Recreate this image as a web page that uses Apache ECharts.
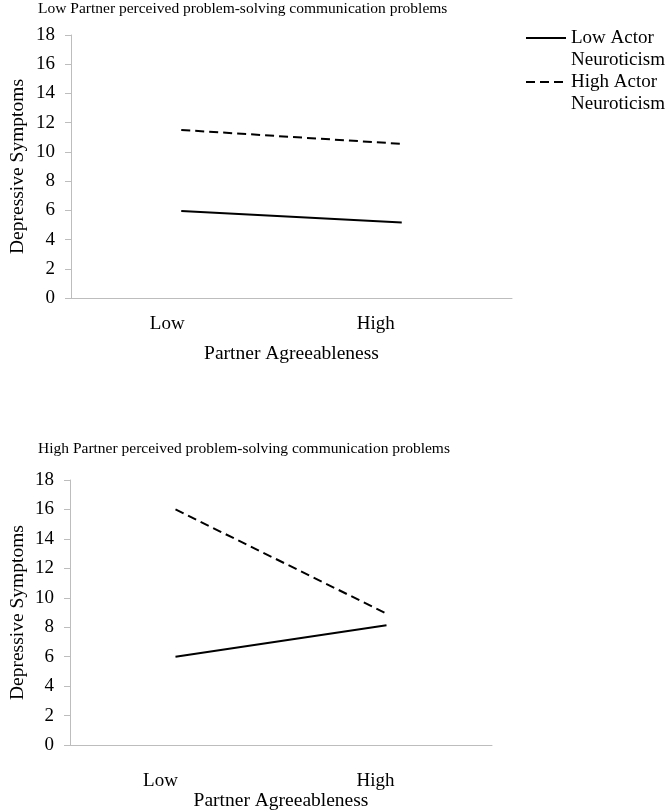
<!DOCTYPE html>
<html>
<head>
<meta charset="utf-8">
<script src="https://cdn.jsdelivr.net/npm/echarts@6/dist/echarts.min.js"></script>
<style>
html,body{margin:0;padding:0;background:#fff;}
#chart{width:670px;height:812px;}
</style>
</head>
<body>
<div id="chart"></div>
<script>
const categories = ['Low', 'High'];
const seriesNames = ['Low Actor\nNeuroticism', 'High Actor\nNeuroticism'];
const titles = [
  'Low Partner perceived problem-solving communication problems',
  'High Partner perceived problem-solving communication problems'
];
const yAxisName = 'Depressive Symptoms';
const xAxisName = 'Partner Agreeableness';
const yMin = 0, yMax = 18, yInterval = 2;

// Low partner perceived problems (top panel)
const topLowActor = [5.95, 5.17];
const topHighActor = [11.5, 10.55];
// High partner perceived problems (bottom panel)
const bottomLowActor = [6.0, 8.13];
const bottomHighActor = [16.0, 8.93];

const FONT = 'Liberation Serif';
const txt = {fontFamily: FONT, color: '#000'};

const chart = echarts.init(document.getElementById('chart'));

function makeX(idx, margin, padLow, padHigh, nameGap) {
  return {
    type: 'category', gridIndex: idx, data: categories, boundaryGap: true,
    axisLine: {show: true, lineStyle: {color: '#bdbdbd', width: 1}},
    axisTick: {show: false},
    axisLabel: Object.assign({
      fontSize: 19, margin: margin,
      formatter: function (v, i) { return (i === 0 ? '{a|' : '{b|') + v + '}'; },
      rich: {
        a: Object.assign({fontSize: 19, padding: [0, padLow, 0, 0]}, txt),
        b: Object.assign({fontSize: 19, padding: [0, padHigh, 0, 0]}, txt)
      }
    }, txt),
    name: xAxisName, nameLocation: 'middle', nameGap: nameGap,
    nameTextStyle: Object.assign({fontSize: 19.5}, txt)
  };
}
function makeY(idx, gap) {
  return {
    type: 'value', gridIndex: idx, min: yMin, max: yMax, interval: yInterval,
    axisLine: {show: true, lineStyle: {color: '#bdbdbd', width: 1}},
    axisTick: {show: true, length: 6, lineStyle: {color: '#bdbdbd'}},
    splitLine: {show: false},
    axisLabel: Object.assign({fontSize: 19, margin: 16}, txt),
    name: yAxisName, nameLocation: 'middle', nameGap: gap, nameMoveOverlap: false,
    nameTextStyle: Object.assign({fontSize: 19.5}, txt)
  };
}
function line(name, data, idx, dashed) {
  return {
    type: 'line', name: name, data: data, xAxisIndex: idx, yAxisIndex: idx,
    symbol: 'none', silent: true,
    lineStyle: {color: '#000', width: 2, type: dashed ? [9, 5] : 'solid'},
    itemStyle: {color: '#000'}
  };
}
function legend(name, top) {
  return {
    data: [name], left: 525, top: top, padding: 0, itemWidth: 40, itemHeight: 14, itemGap: 0,
    itemStyle: {color: 'rgba(0,0,0,0)', borderWidth: 0},
    formatter: function (n) { return ' \n' + n; },
    textStyle: Object.assign({fontSize: 19, lineHeight: 22}, txt)
  };
}

chart.setOption({
  animation: false,
  backgroundColor: '#fff',
  title: [
    {text: titles[0], left: 33, top: -4, textStyle: Object.assign({fontSize: 15.5, fontWeight: 'normal'}, txt)},
    {text: titles[1], left: 33, top: 436, textStyle: Object.assign({fontSize: 15.5, fontWeight: 'normal'}, txt)}
  ],
  legend: [legend(seriesNames[0], 5), legend(seriesNames[1], 49)],
  grid: [
    {left: 69, right: 158, top: 35, height: 263},
    {left: 59, right: 178, top: 480, height: 268}
  ],
  xAxis: [makeX(0, 17, 28, 52, 46), makeX(1, 26, 30, 22, 45)],
  yAxis: [makeY(0, 43), makeY(1, 42)],
  series: [
    line(seriesNames[0], topLowActor, 0, false),
    line(seriesNames[1], topHighActor, 0, true),
    line(seriesNames[0], bottomLowActor, 1, false),
    line(seriesNames[1], bottomHighActor, 1, true)
  ]
});
</script>
</body>
</html>
